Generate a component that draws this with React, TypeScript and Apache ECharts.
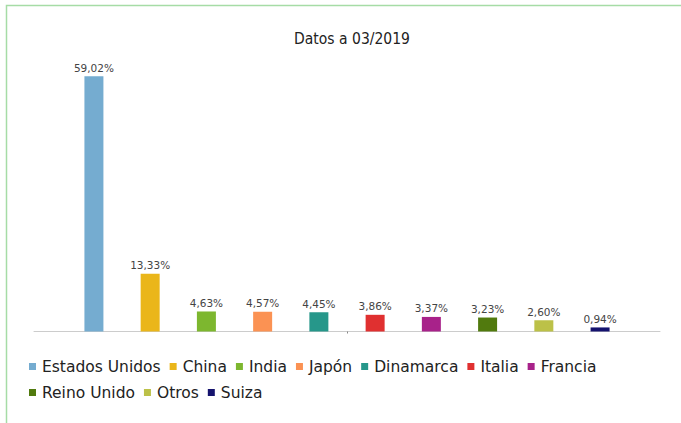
import React, { useEffect, useRef } from "react";
import * as echarts from "echarts";

const titleText = "Datos a 03/2019";
const categories = [""];
const seriesNames = [
  "Estados Unidos",
  "China",
  "India",
  "Japón",
  "Dinamarca",
  "Italia",
  "Francia",
  "Reino Unido",
  "Otros",
  "Suiza",
];
const seriesValues = [59.02, 13.33, 4.63, 4.57, 4.45, 3.86, 3.37, 3.23, 2.6, 0.94];
const seriesColors = [
  "#75acd0",
  "#eab61a",
  "#7db72f",
  "#fb9253",
  "#26978a",
  "#e03030",
  "#a8228a",
  "#517a0e",
  "#bcc148",
  "#15136e",
];

const FONT = "'DejaVu Sans', sans-serif";
const FONT_C = "'DejaVu Sans Condensed', 'DejaVu Sans', sans-serif";

export default function App() {
  const ref = useRef<HTMLDivElement>(null);
  useEffect(() => {
    if (!ref.current) return;
    const chart = echarts.init(ref.current, undefined, { renderer: "svg" });
    chart.setOption({
      animation: false,
      backgroundColor: "#ffffff",
      title: {
        text: titleText,
        left: 347,
        textAlign: "center",
        top: 26,
        textStyle: { fontFamily: FONT_C, fontSize: 15.5, fontWeight: "normal", color: "#222" },
      },
      graphic: [
        {
          type: "rect",
          shape: { x: 6.5, y: 5.5, width: 800, height: 600 },
          style: { fill: "none", stroke: "#a6dca6", lineWidth: 1.5 },
          silent: true,
        },
      ],
      legend: {
        left: 29,
        top: 358,
        width: 620,
        itemWidth: 7,
        itemHeight: 7,
        itemGap: 9,
        padding: 0,
        itemStyle: { borderWidth: 0 },
        icon: "rect",
        textStyle: {
          fontFamily: FONT,
          fontSize: 15.5,
          lineHeight: 17,
          color: "#222",
          padding: [0, 0, 0, 1],
        },
        data: seriesNames,
      },
      grid: { left: 34, right: 21, top: 72, height: 259.5, containLabel: false },
      xAxis: {
        type: "category",
        data: categories,
        axisLine: { lineStyle: { color: "#cccccc" } },
        axisTick: { show: true, alignWithLabel: true, length: 2, lineStyle: { color: "#888" } },
        axisLabel: { show: false },
      },
      yAxis: {
        type: "value",
        min: 0,
        max: 60,
        show: false,
        splitLine: { show: false },
      },
      series: seriesNames.map((name, i) => ({
        name,
        type: "bar",
        data: [seriesValues[i]],
        barWidth: 19,
        barGap: "196%",
        itemStyle: { color: seriesColors[i] },
        label: {
          show: true,
          position: "top",
          distance: 3,
          fontFamily: FONT,
          fontSize: 10.5,
          color: "#444",
          formatter: (p: any) => p.value.toFixed(2).replace(".", ",") + "%",
        },
      })),
    });
    return () => chart.dispose();
  }, []);
  return <div ref={ref} style={{ width: 681, height: 423, position: "absolute", left: 0, top: 0 }} />;
}
